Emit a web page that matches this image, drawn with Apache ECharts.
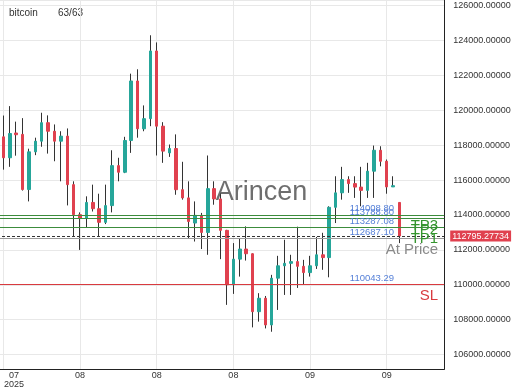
<!DOCTYPE html>
<html><head><meta charset="utf-8">
<script src="https://cdn.jsdelivr.net/npm/echarts@6/dist/echarts.min.js"></script>
<style>html,body{margin:0;padding:0;background:#fff}#c{width:520px;height:390px}</style>
</head><body><div id="c"></div>
<script>
// ---- data ----
const opens  = [118480,117280,118700,118620,115460,117620,118230,119290,118800,118230,
                118520,115740,114020,113800,114720,114360,113580,114540,116830,116450,
                118270,121680,118940,119520,123400,119090,117560,117810,115450,114980,
                113540,113980,113000,115510,114920,113120,110000,111470,112050,111780,
                108460,109230,107700,110380,111090,111230,111330,111060,110700,111090,
                111720,111560,114440,115270,116030,115800,115600,115410,116510,117710,
                117080,115610,114720];
const closes = [117280,118670,118600,115460,117620,118230,119290,118800,118230,118520,
                115740,114020,113800,114720,114360,113580,114540,116830,116450,118270,
                121680,118940,119520,123400,119090,117660,117810,115450,114980,113630,
                113980,113000,115510,114920,113120,110000,111470,112050,111780,108460,
                109230,107700,110380,111090,111230,111330,111060,110700,111090,111720,
                111560,114440,115270,116030,115800,115600,115410,116510,117710,117080,
                115610,115680,112795.27734];
const lows   = [116600,116760,117400,115400,114780,117430,117910,117520,117080,115930,
                114550,112740,112000,113310,114200,112770,113480,114150,115930,116400,
                117560,118430,118800,119090,117410,116990,117330,115160,114880,112680,
                112480,112050,111720,114590,111470,108850,109480,110470,111390,107560,
                107890,107500,107310,108560,109420,109420,109820,110000,110470,110910,
                110860,110430,113540,114880,115270,114980,114500,114980,114980,116790,
                115220,115610,112390];
const highs  = [119700,120240,119350,119550,117800,118430,119860,119710,119190,118800,
                118960,115930,114150,115070,115740,115220,115740,117710,117280,118480,
                122100,122350,120280,124300,123890,119320,118040,118620,117050,115930,
                114780,114120,117410,115930,115260,113150,112390,112680,113350,111800,
                109520,109360,110570,111660,112580,111720,113330,111430,111660,112740,
                112980,114500,116220,116760,116220,116220,116760,116990,117980,117940,
                117180,116220,114720];
const xTickLabels = ['07\n2025','08','08','08','09','09'];
const levelValues = [114008.80, 113788.80, 113287.08, 112687.10, 110043.29];
const levelNames  = ['TP3','TP2','TP1','At Price','SL'];
const currentPrice = 112795.27734;
const seriesName = 'bitcoin';
const countText = '63/63';

// ---- build ----
const nCats = 71, tickStep = 12;
const categories = [];
const d0 = new Date(Date.UTC(2025, 6, 21));
for (let i = 0; i < nCats; i++) {
  const d = new Date(d0.getTime() + i * 86400000);
  categories.push(d.toISOString().slice(0, 10));
}
const wickData = opens.map((o, i) => [i + 1, o, closes[i], lows[i], highs[i]]);
const bodyData = opens.map((o, i) => [i + 1, o, closes[i], Math.min(o, closes[i]), Math.max(o, closes[i])]);

const lvlStyle = {
  'TP3': {line: '#3c8c3c', text: '#35952f'},
  'TP2': {line: '#3c8c3c', text: '#35952f'},
  'TP1': {line: '#3c8c3c', text: '#35952f'},
  'At Price': {line: '#9a9a9a', text: '#8a8a8a'},
  'SL': {line: '#d93a3f', text: '#d93a3f'}
};
const FONT = 'Liberation Sans';
const UP = '#26a69a', DOWN = '#e0414f';

const mlData = [];
levelValues.forEach((v, k) => {
  const st = lvlStyle[levelNames[k]];
  mlData.push({
    yAxis: v,
    lineStyle: {color: st.line, width: 1, type: 'solid'},
    label: {show: true, position: 'insideEndBottom', formatter: levelNames[k],
            color: st.text, fontSize: 15, fontFamily: FONT, distance: [6, 4]}
  });
});
levelValues.forEach((v) => {
  mlData.push([
    {xAxis: categories[55], yAxis: v,
     lineStyle: {color: 'rgba(0,0,0,0)', width: 0, opacity: 1},
     label: {show: true, position: 'insideStartTop', formatter: v.toFixed(2), opacity: 1,
             color: '#5680d8', fontSize: 9.5, fontFamily: FONT, distance: [1.5, 1]}},
    {xAxis: categories[nCats - 1], yAxis: v}
  ]);
});
mlData.push({
  yAxis: currentPrice,
  lineStyle: {color: '#333', width: 1, type: [3, 2]},
  label: {show: true, position: 'end', formatter: currentPrice.toFixed(5),
          backgroundColor: DOWN, color: '#fff', fontSize: 9, fontFamily: FONT,
          padding: [1, 2], distance: 6, lineHeight: 9}
});

const chart = echarts.init(document.getElementById('c'), null, {renderer: 'canvas'});
chart.setOption({
  animation: false,
  backgroundColor: '#fff',
  grid: {left: -3, top: 0, width: 447.2, height: 369.3, containLabel: false, outerBoundsMode: 'none'},
  xAxis: {
    type: 'category', data: categories, boundaryGap: false,
    axisLine: {show: true, lineStyle: {color: '#222', width: 1}},
    axisTick: {show: false},
    splitLine: {show: true, lineStyle: {color: '#e8e8e8'},
                interval: (i) => i >= 1 && (i - 1) % tickStep === 0},
    axisLabel: {
      interval: (i) => i >= 1 && (i - 1) % tickStep === 0 && (i - 1) / tickStep < xTickLabels.length,
      formatter: (val, i) => {
        const k = (i - 1) / tickStep;
        const t = xTickLabels[k];
        if (t === undefined) return '';
        if (t.indexOf('\n') >= 0) {
          return t.split('\n').map(s => '{sp| }{f|' + s + '}').join('\n');
        }
        return t;
      },
      color: '#333', fontSize: 9, fontFamily: FONT, margin: 2, lineHeight: 9,
      rich: {sp: {width: 21, fontSize: 9, lineHeight: 9}, f: {width: 22, align: 'center', fontSize: 9, lineHeight: 9, color: '#333'}}
    }
  },
  yAxis: {
    type: 'value', position: 'right', scale: true,
    min: 105158, max: 126321, splitNumber: 10,
    axisLine: {show: true, lineStyle: {color: '#222', width: 1}},
    axisTick: {show: false},
    splitLine: {show: true, lineStyle: {color: '#e8e8e8'}},
    axisLabel: {show: true, color: '#333', fontSize: 9, fontFamily: FONT, margin: 9,
                showMinLabel: false, showMaxLabel: false,
                formatter: (v) => v.toFixed(5)}
  },
  series: [
    {
      type: 'candlestick', name: seriesName + '-wick', data: wickData,
      encode: {x: 0, y: [1, 2, 3, 4]}, barWidth: 1, silent: true,
      itemStyle: {color: '#333', color0: '#333', borderColor: '#333', borderColor0: '#333', borderWidth: 1}
    },
    {
      type: 'candlestick', name: seriesName, data: bodyData,
      encode: {x: 0, y: [1, 2, 3, 4]}, barWidth: 3, silent: true,
      itemStyle: {color: UP, color0: DOWN, borderColor: UP, borderColor0: DOWN, borderWidth: 1},
      markLine: {silent: true, symbol: ['none', 'none'], animation: false, data: mlData}
    }
  ],
  graphic: [
    {type: 'text', x: 9, y: 13, style: {text: seriesName, fill: '#333', font: '10px "Liberation Sans"', verticalAlign: 'middle'}},
    {type: 'text', x: 58, y: 13, style: {text: countText, fill: '#333', font: '10px "Liberation Sans"', verticalAlign: 'middle'}},
    {type: 'text', x: 261.5, y: 193, z: 100, style: {text: 'Arincen', fill: 'rgba(85,85,85,0.85)', font: '27px "Liberation Sans"', align: 'center', verticalAlign: 'middle'}}
  ]
});
</script></body></html>
